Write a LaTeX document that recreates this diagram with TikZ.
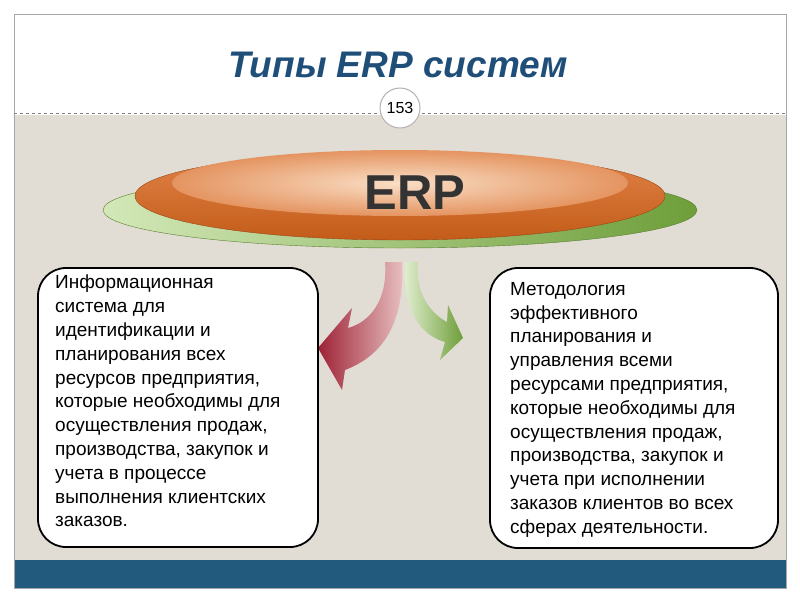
\documentclass[tikz,border=0pt]{standalone}
\usepackage{fontspec}
\setmainfont{Liberation Sans}
\usetikzlibrary{shadings}
\definecolor{titleblue}{HTML}{1F4E79}
\definecolor{beige}{HTML}{E2DDD4}
\definecolor{barblue}{HTML}{215A7C}
\definecolor{orng}{HTML}{D9661C}
\definecolor{lorng}{HTML}{F6C9A0}
\definecolor{grn}{HTML}{6E9E3A}
\definecolor{lgrn}{HTML}{D3E8B8}
\definecolor{dred}{HTML}{9E2236}
\definecolor{lred}{HTML}{E9C3C3}
\tikzset{txtbox/.style={draw=black,line width=1.8pt,rounded corners=28pt,fill=white},
 body/.style={font=\fontsize{19}{23.8}\selectfont,align=left,anchor=north west,inner sep=0pt}}
\begin{document}
\begin{tikzpicture}[x=1pt,y=-1pt]
\useasboundingbox (0,0) rectangle (800,600);
\fill[white] (0,0) rectangle (800,600);
\fill[beige] (14,115) rectangle (786,560);
\fill[barblue] (14,560) rectangle (786,588);
\draw[gray!70] (14,14) rectangle (786,588);
\draw[gray,dashed] (14,113) -- (786,113);
\node (title) at (398,65) {\fontsize{37}{40}\selectfont\bfseries\itshape\color{titleblue}Типы ERP систем};
\node[circle,draw=gray!60,line width=1pt,fill=white,minimum size=40pt,inner sep=0pt] (num) at (400,108) {\fontsize{16}{17}\selectfont 153};
% ellipses
\shade[left color=lgrn,right color=grn,draw=grn!80!black] (400,210) ellipse [x radius=297,y radius=38];
\shade[top color=orng!80,bottom color=orng!90!black,draw=orng!70!black] (400,196) ellipse [x radius=265,y radius=44];
\shade[inner color=lorng!60!white,outer color=orng!70] (400,183) ellipse [x radius=228,y radius=33];
\node (erp) at (415,193) {\fontsize{49}{52}\selectfont\bfseries\color{black!80}ERP};
% arrows
\shade[left color=dred,right color=lred] (385,262) .. controls (388,300) and (370,322) .. (348,328) -- (352,308) -- (318,348) -- (342,390) -- (345,370) .. controls (385,355) and (405,320) .. (402,262) -- cycle;
\shade[left color=lgrn!60!white,right color=grn] (405,262) .. controls (402,310) and (420,335) .. (445,342) -- (440,360) -- (463,338) -- (448,305) -- (447,322) .. controls (428,312) and (415,290) .. (418,262) -- cycle;
% boxes
\draw[txtbox] (38,268) rectangle (318,547);
\draw[txtbox] (490,268) rectangle (778,548);
\node[body] (lt) at (55,275) {Информационная\\система для\\идентификации и\\планирования всех\\ресурсов предприятия,\\которые необходимы для\\осуществления продаж,\\производства, закупок и\\учета в процессе\\выполнения клиентских\\заказов.};
\node[body] (rt) at (510,282) {Методология\\эффективного\\планирования и\\управления всеми\\ресурсами предприятия,\\которые необходимы для\\осуществления продаж,\\производства, закупок и\\учета при исполнении\\заказов клиентов во всех\\сферах деятельности.};
\end{tikzpicture}
\end{document}
